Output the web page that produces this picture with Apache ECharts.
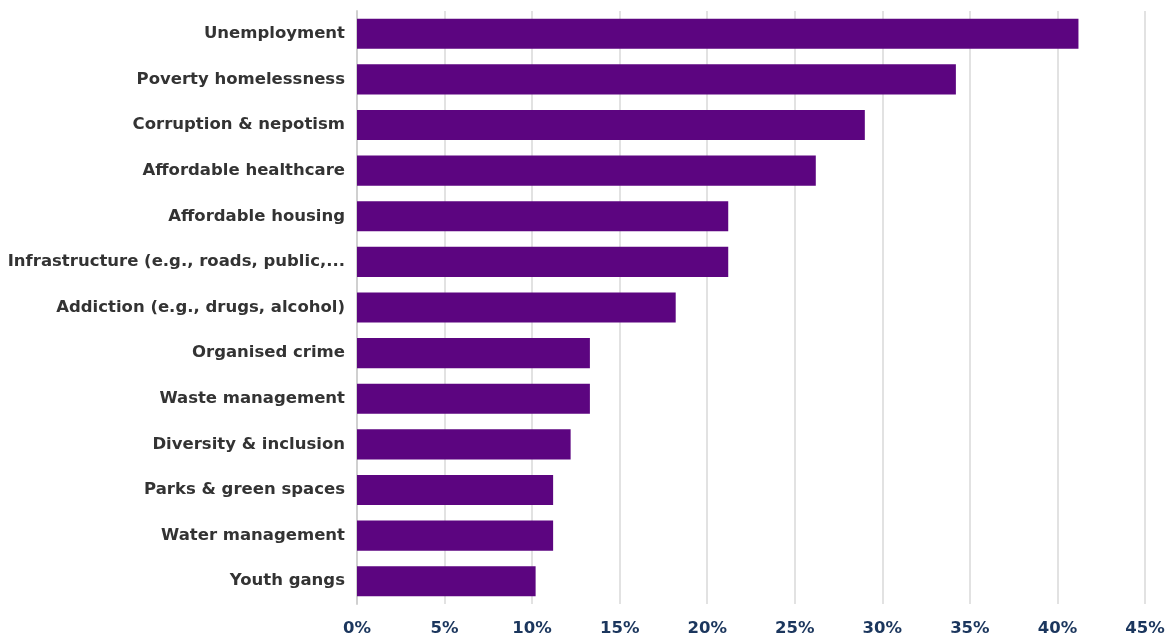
<!DOCTYPE html>
<html>
<head>
<meta charset="utf-8">
<script src="https://cdn.jsdelivr.net/npm/echarts@6/dist/echarts.min.js"></script>
<style>html,body{margin:0;padding:0;background:#fff}#c{width:1172px;height:641px}</style>
</head>
<body>
<div id="c"></div>
<script>
const categories = ["Unemployment","Poverty homelessness","Corruption & nepotism","Affordable healthcare","Affordable housing","Infrastructure (e.g., roads, public,...","Addiction (e.g., drugs, alcohol)","Organised crime","Waste management","Diversity & inclusion","Parks & green spaces","Water management","Youth gangs"];
const values = [41.2, 34.2, 29.0, 26.2, 21.2, 21.2, 18.2, 13.3, 13.3, 12.2, 11.2, 11.2, 10.2];
const chart = echarts.init(document.getElementById('c'));
chart.setOption({
  animation:false,
  grid:{left:357,right:27,top:11,bottom:37,containLabel:false},
  xAxis:{type:'value',min:0,max:45,interval:5,
    axisLine:{show:false},axisTick:{show:false},
    splitLine:{show:true,lineStyle:{color:'#d9d9d9',width:1.5}},
    axisLabel:{formatter:'{value}%',color:'#1b365d',fontFamily:'DejaVu Sans',fontWeight:'bold',fontSize:16.5,margin:16}},
  yAxis:{type:'category',inverse:true,data:categories,
    axisLine:{show:true,lineStyle:{color:'#d0d0d0',width:2}},axisTick:{show:false},
    axisLabel:{color:'#333333',fontFamily:'DejaVu Sans',fontWeight:'bold',fontSize:16.5,margin:12}},
  series:[{type:'bar',data:values,barWidth:'66%',itemStyle:{color:'#5c0580'}}]
});
</script>
</body>
</html>
